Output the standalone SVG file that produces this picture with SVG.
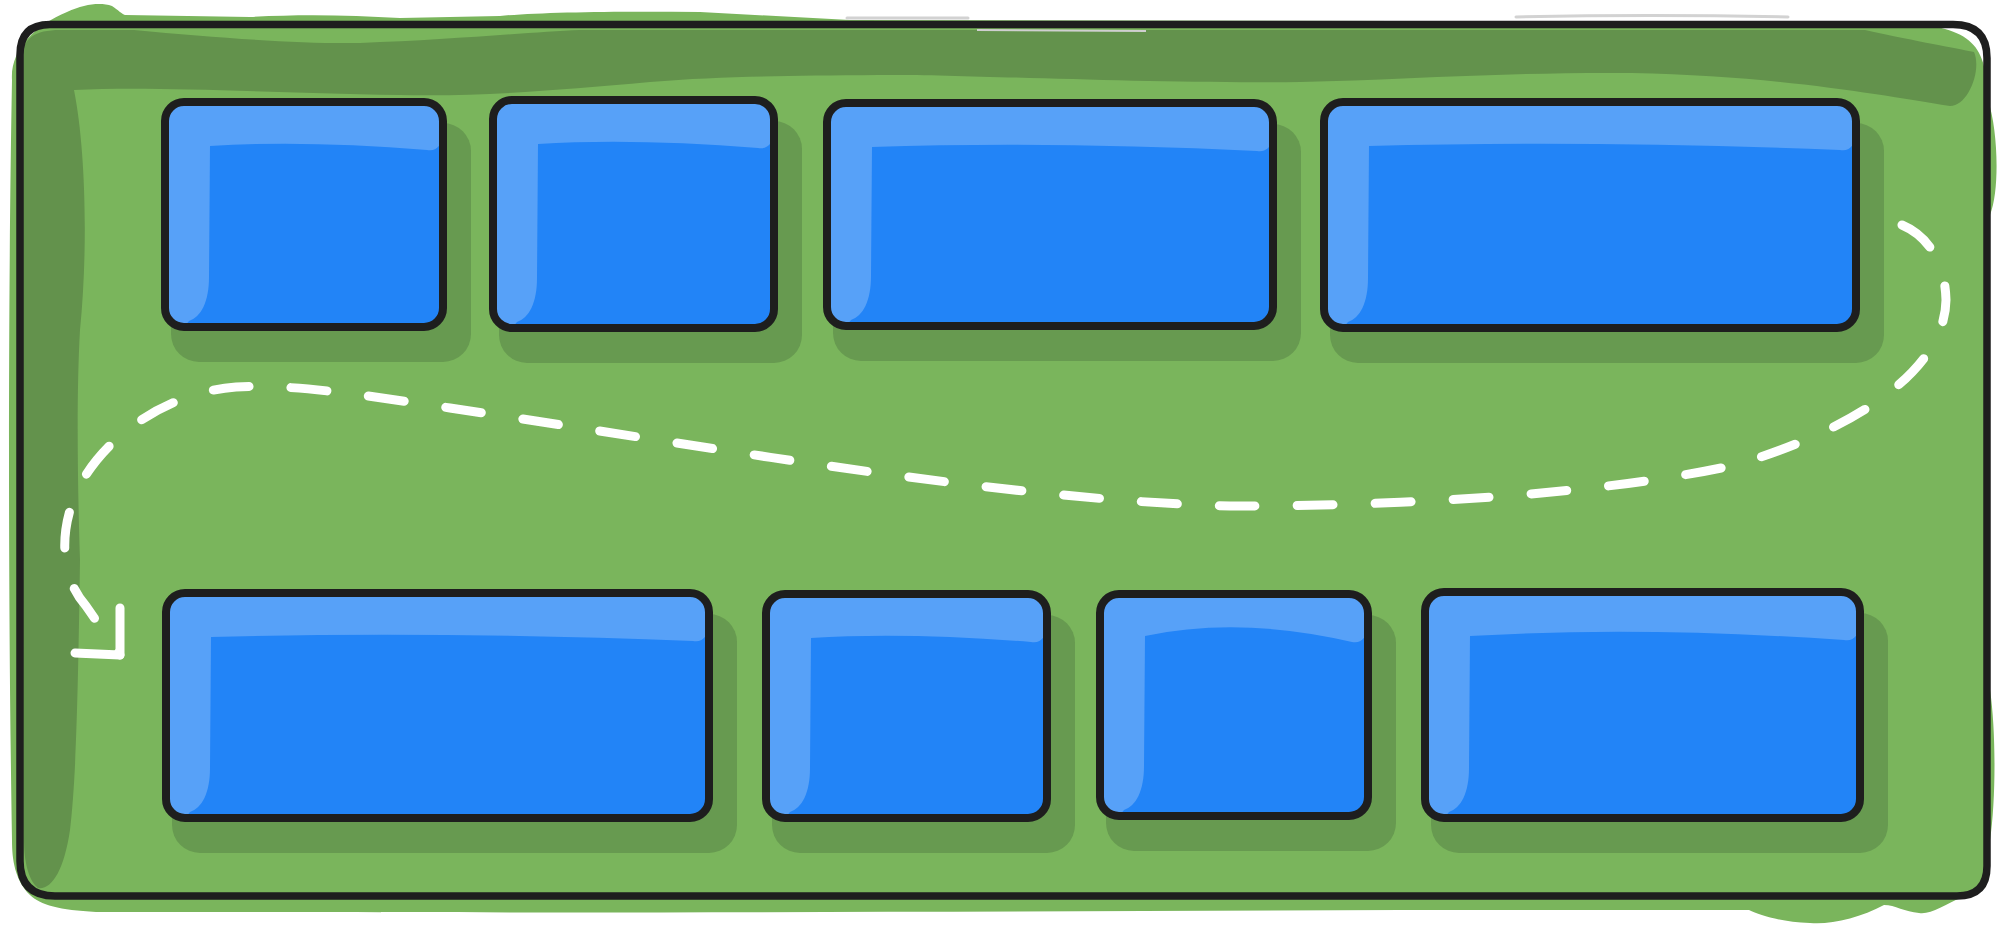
<svg xmlns="http://www.w3.org/2000/svg" width="2007" height="928" viewBox="0 0 2007 928">
<style>
.bg{fill:#7ab55c}
.band{fill:#63924c}
.frame{fill:none;stroke:#1e1e1e;stroke-width:7.5;stroke-linejoin:round}
.faint{fill:none;stroke:#d2d2d2;stroke-width:3;stroke-linecap:round}
.shadow{fill:#679a50}
.box{fill:#2284f7}
.hl{fill:#57a1f8}
.edge{fill:none;stroke:#1e1e1e;stroke-width:8}
.conn{fill:none;stroke:#ffffff;stroke-width:9;stroke-linecap:round;stroke-linejoin:round}
</style>
<rect width="2007" height="928" fill="#ffffff"/>
<g id="container">
<path class="bg" d="M12,80 C10,50 35,25 67,12 C85,4 100,2 112,6 C118,10 122,14 125,15 L250,17 C300,14 350,15 400,18 L500,16 C540,12 620,11 700,12 L850,20 L1900,22 C1975,28 1986,45 1988,100 C1998,130 2000,190 1990,215 L1990,690 C1996,730 1996,800 1990,840 L1990,870 C1985,895 1970,897 1962,897 C1945,905 1930,915 1919,913 C1905,912 1895,905 1884,905 C1860,918 1830,925 1810,923 C1780,922 1760,915 1749,910 L1400,910 C1000,912 600,913 300,912 L96,912 C60,910 40,905 30,895 C15,880 12,860 12,840 C8,600 8,300 12,80 Z"/>
<path class="band" d="M22,60 C22,38 35,30 60,30 L134,30 C220,38 300,44 360,43 C450,40 530,32 580,30 L1865,30 C1920,42 1955,48 1974,52 C1982,70 1968,106 1950,106 C1880,95 1780,76 1632,73 C1500,72 1400,80 1300,82 C1146,84 960,74 878,75 C780,76 720,76 650,82 C560,90 480,97 400,95 C250,92 150,86 74,90 C86,150 88,250 80,330 C76,400 78,500 80,560 C78,700 76,780 70,830 C64,870 52,890 38,888 C28,880 24,860 24,840 Z"/>
<path class="faint" d="M847,18 L968,18 M1516,17 C1600,15 1700,15 1788,17"/>
<path d="M977,30 L1146,31" fill="none" stroke="#cfcfcf" stroke-width="2"/>
<path class="frame" d="M50,24.5 L1953,24.5 Q1987,24.5 1987,58 L1987,866 Q1987,896 1957,896 L55,896 Q20,896 20,861 L20,55 Q20,24.5 50,24.5 Z"/>
</g>
<g id="node-1">
<rect class="shadow" x="171" y="123" width="300" height="239" rx="28"/>
<rect class="box" x="165" y="102" width="278" height="225" rx="19"/>
<path class="hl" d="M165,121 Q165,102 184,102 L424,102 Q443,102 443,121 L443,132 C443,144 437,152 427,150 Q304,140 210,146 L209,277 C209,302 201,317 189,321 L184,327 Q165,327 165,308 Z"/>
<rect class="edge" x="165" y="102" width="278" height="225" rx="19"/>
</g>
<g id="node-2">
<rect class="shadow" x="499" y="121" width="303" height="242" rx="28"/>
<rect class="box" x="493" y="100" width="281" height="228" rx="19"/>
<path class="hl" d="M493,119 Q493,100 512,100 L755,100 Q774,100 774,119 L774,130 C774,142 768,150 758,148 Q633,138 538,144 L537,278 C537,303 529,318 517,322 L512,328 Q493,328 493,309 Z"/>
<rect class="edge" x="493" y="100" width="281" height="228" rx="19"/>
</g>
<g id="node-3">
<rect class="shadow" x="833" y="124" width="468" height="237" rx="28"/>
<rect class="box" x="827" y="103" width="446" height="223" rx="19"/>
<path class="hl" d="M827,122 Q827,103 846,103 L1254,103 Q1273,103 1273,122 L1273,133 C1273,145 1267,153 1257,151 Q1050,141 872,147 L871,276 C871,301 863,316 851,320 L846,326 Q827,326 827,307 Z"/>
<rect class="edge" x="827" y="103" width="446" height="223" rx="19"/>
</g>
<g id="node-4">
<rect class="shadow" x="1330" y="123" width="554" height="240" rx="28"/>
<rect class="box" x="1324" y="102" width="532" height="226" rx="19"/>
<path class="hl" d="M1324,121 Q1324,102 1343,102 L1837,102 Q1856,102 1856,121 L1856,132 C1856,144 1850,152 1840,150 Q1590,140 1369,146 L1368,278 C1368,303 1360,318 1348,322 L1343,328 Q1324,328 1324,309 Z"/>
<rect class="edge" x="1324" y="102" width="532" height="226" rx="19"/>
</g>
<g id="node-5">
<rect class="shadow" x="172" y="614" width="565" height="239" rx="28"/>
<rect class="box" x="166" y="593" width="543" height="225" rx="19"/>
<path class="hl" d="M166,612 Q166,593 185,593 L690,593 Q709,593 709,612 L709,623 C709,635 703,643 693,641 Q437,631 211,637 L210,768 C210,793 202,808 190,812 L185,818 Q166,818 166,799 Z"/>
<rect class="edge" x="166" y="593" width="543" height="225" rx="19"/>
</g>
<g id="node-6">
<rect class="shadow" x="772" y="615" width="303" height="238" rx="28"/>
<rect class="box" x="766" y="594" width="281" height="224" rx="19"/>
<path class="hl" d="M766,613 Q766,594 785,594 L1028,594 Q1047,594 1047,613 L1047,624 C1047,636 1041,644 1031,642 Q906,632 811,638 L810,768 C810,793 802,808 790,812 L785,818 Q766,818 766,799 Z"/>
<rect class="edge" x="766" y="594" width="281" height="224" rx="19"/>
</g>
<g id="node-7">
<rect class="shadow" x="1106" y="615" width="290" height="236" rx="28"/>
<rect class="box" x="1100" y="594" width="268" height="222" rx="19"/>
<path class="hl" d="M1100,613 Q1100,594 1119,594 L1349,594 Q1368,594 1368,613 L1368,624 C1368,636 1362,644 1352,642 Q1240,616 1145,636 L1144,766 C1144,791 1136,806 1124,810 L1119,816 Q1100,816 1100,797 Z"/>
<rect class="edge" x="1100" y="594" width="268" height="222" rx="19"/>
</g>
<g id="node-8">
<rect class="shadow" x="1431" y="613" width="457" height="240" rx="28"/>
<rect class="box" x="1425" y="592" width="435" height="226" rx="19"/>
<path class="hl" d="M1425,611 Q1425,592 1444,592 L1841,592 Q1860,592 1860,611 L1860,622 C1860,634 1854,642 1844,640 Q1640,626 1470,636 L1469,768 C1469,793 1461,808 1449,812 L1444,818 Q1425,818 1425,799 Z"/>
<rect class="edge" x="1425" y="592" width="435" height="226" rx="19"/>
</g>
<g id="connectors">
<path class="conn" stroke-dasharray="36 42" d="M1902,225 C1928,236 1945,262 1946,300 C1945,370 1855,430 1735,465 C1600,495 1400,506 1230,506 C1000,500 700,445 450,408 C350,393 290,384 236,387 C170,392 112,432 84,478 C58,522 58,575 86,606 L120,655"/>
<path class="conn" d="M120,608 L120,655 L75,653"/>
</g>
</svg>
